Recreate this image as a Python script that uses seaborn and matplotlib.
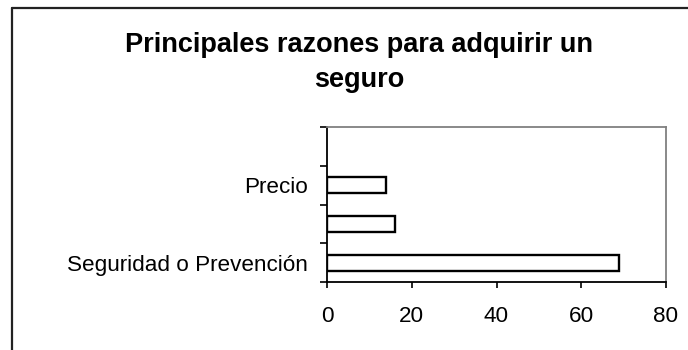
import matplotlib
matplotlib.use("Agg")
import matplotlib.pyplot as plt
from matplotlib.lines import Line2D
import seaborn as sns
import pandas as pd

# Reasons for buying insurance (percent of respondents)
categories = ["Seguridad o Prevención", " ", "Precio"]
values = [69, 16, 14]
# slot order from top to bottom; the top slot has no bar
slot_order = ["", "Precio", " ", "Seguridad o Prevención"]
x_ticks = [0, 20, 40, 60, 80]
title = "Principales razones para adquirir un\nseguro"

sns.set_theme(style="white")
plt.rcParams["font.family"] = ["Liberation Sans", "DejaVu Sans"]

df = pd.DataFrame({"razon": categories, "valor": values})

fig = plt.figure(figsize=(6.88, 3.5), dpi=100)
fig.patch.set_facecolor("white")
W, H = 688, 350
ax = fig.add_axes([327 / W, 68 / H, 339 / W, 155 / H])

sns.barplot(data=df, y="razon", x="valor", order=slot_order, orient="h",
            width=0.41, color="white", edgecolor="black", linewidth=1.7,
            ax=ax, errorbar=None, saturation=1)

ax.set_xlim(0, 80)
ax.set_ylim(len(slot_order) - 0.5, -0.5)
ax.set_xlabel("")
ax.set_ylabel("")

# x axis ticks and labels
ax.set_xticks(x_ticks)
ax.set_xticklabels([str(t) for t in x_ticks], fontsize=16.2, color="black")
ax.tick_params(axis="x", which="major", direction="out", length=4, width=1.2,
               color="black", pad=13, bottom=True)

# y axis: ticks between categories, labels at centres
n = len(slot_order)
ax.set_yticks([i - 0.5 for i in range(n + 1)])
ax.set_yticklabels([])
ax.set_yticks(list(range(n)), minor=True)
ax.set_yticklabels(slot_order, minor=True, fontsize=16.2, color="black")
ax.tick_params(axis="y", which="major", direction="out", length=5, width=1.2,
               color="black", left=True)
ax.tick_params(axis="y", which="minor", length=0, pad=14)

for side in ("left", "bottom"):
    ax.spines[side].set_color("black")
    ax.spines[side].set_linewidth(1.3)
for side in ("top", "right"):
    ax.spines[side].set_visible(True)
    ax.spines[side].set_color("#808080")
    ax.spines[side].set_linewidth(1.3)

# two-line title; vertical anchor is the baseline of the last line
fig.text(359 / W, 1 - 87 / H, title, ha="center", va="baseline",
         fontsize=19.5, fontweight="bold", color="black", linespacing=1.45)

# outer chart frame
fig.add_artist(Line2D([12 / W, 12 / W], [0, 1 - 8 / H], transform=fig.transFigure,
                      color="#222222", linewidth=1.6))
fig.add_artist(Line2D([12 / W, 1], [1 - 8 / H, 1 - 8 / H], transform=fig.transFigure,
                      color="#222222", linewidth=1.6))

fig.savefig("out.png", dpi=100, facecolor="white")
